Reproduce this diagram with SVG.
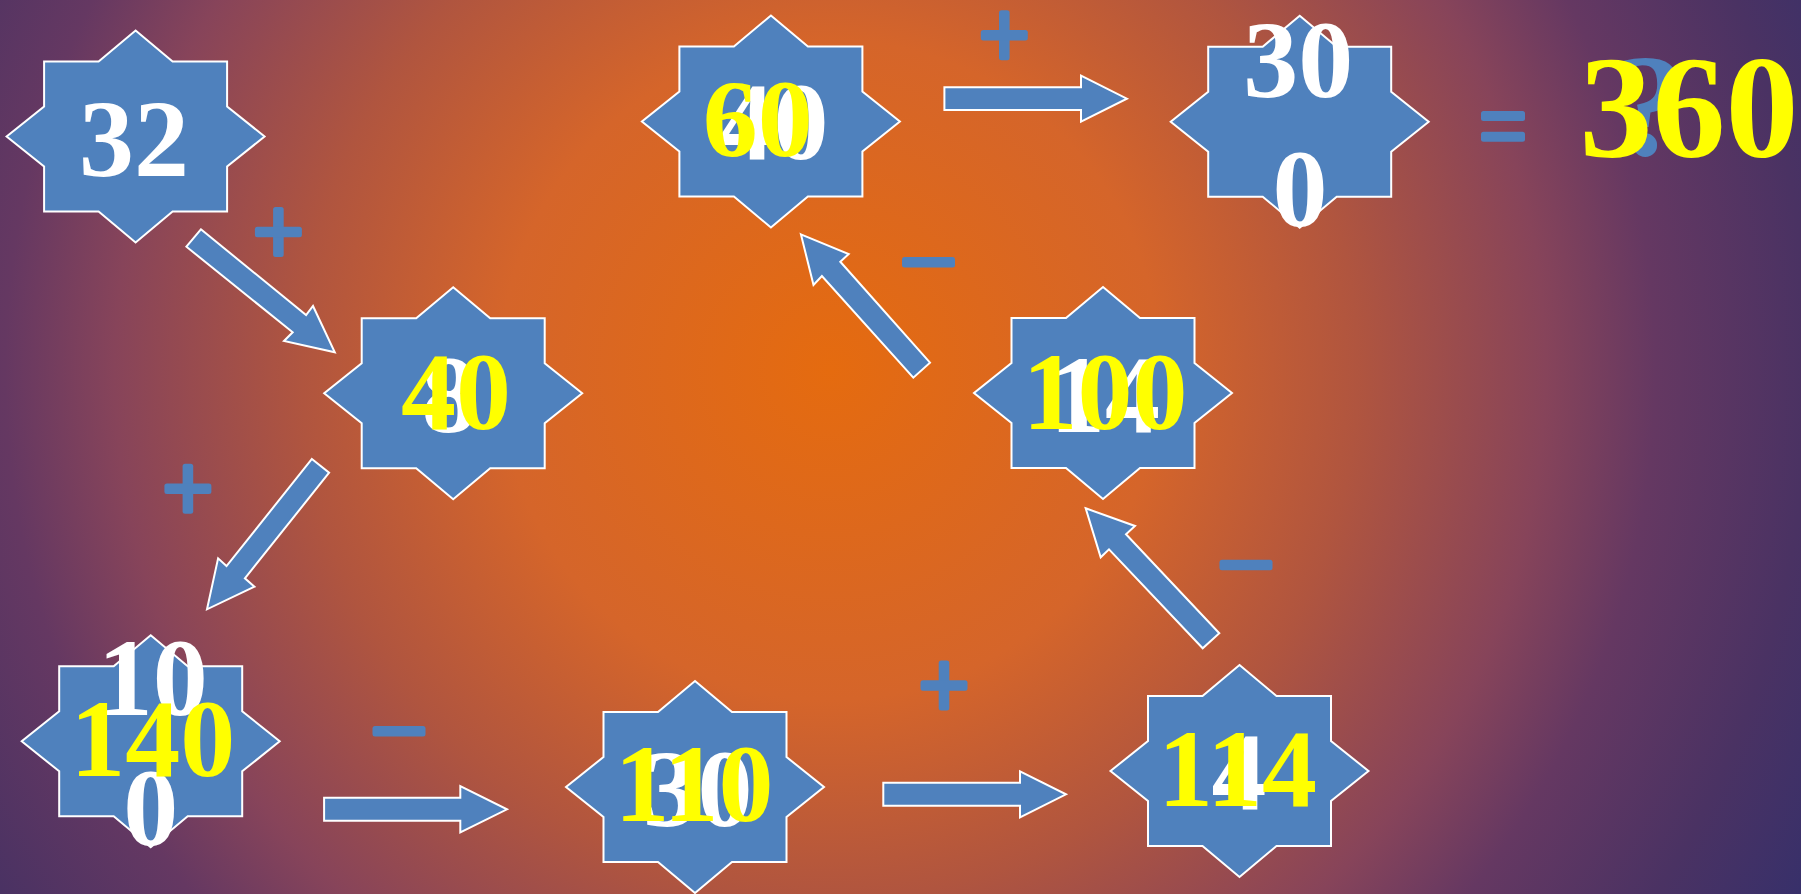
<svg xmlns="http://www.w3.org/2000/svg" xmlns:xlink="http://www.w3.org/1999/xlink" width="1801" height="894" viewBox="0 0 1801 894">
<style>
.star{fill:#4F81BD;stroke:#FFFFFF;stroke-width:2}
.arr{fill:#4F81BD;stroke:#FFFFFF;stroke-width:2;stroke-linejoin:miter}
.op{fill:#4F81BD}
.num{font-family:"Liberation Serif","Times New Roman",serif;font-weight:bold;font-size:110px;text-anchor:middle}
.w{fill:#FFFFFF}
.y{fill:#FFFF00}
.big{font-size:146px}
</style>
<defs>
<radialGradient id="bg" gradientUnits="userSpaceOnUse" cx="830" cy="370" r="1100">
<stop offset="0" stop-color="#E56B0F"/>
<stop offset="0.3" stop-color="#D5652A"/>
<stop offset="0.48" stop-color="#B0553F"/>
<stop offset="0.65" stop-color="#87445A"/>
<stop offset="0.75" stop-color="#653862"/>
<stop offset="0.89" stop-color="#4A3263"/>
<stop offset="1" stop-color="#38306A"/>
</radialGradient>
<path id="st" d="M0,-106 L37,-75 L91.5,-75 L91.5,-30 L129,0 L91.5,30 L91.5,75 L37,75 L0,106 L-37,75 L-91.5,75 L-91.5,30 L-129,0 L-91.5,-30 L-91.5,-75 L-37,-75 Z"/>
<g id="plus"><rect x="-5.3" y="-25" width="10.6" height="50" rx="2.5"/><rect x="-23.5" y="-5.2" width="47" height="10.4" rx="2.5"/></g>
<rect id="minus" x="-26.5" y="-5.2" width="53" height="10.4" rx="2.5"/>
</defs>
<rect x="0" y="0" width="1801" height="894" fill="url(#bg)"/>

<g id="connectors">
<polygon class="arr" points="200.9,229.3 306.1,315 313,306 334.8,352.3 284,341 292.7,332.3 186.4,246.7"/>
<polygon class="arr" points="311.9,459 329.1,472.7 244.9,578.3 254.5,586.7 207,609.3 218.1,558.3 226.5,566"/>
<polygon class="arr" points="324.1,797.7 460.3,797.7 460.3,786 507,809.3 460.3,832.3 460.3,820.7 324.1,820.7"/>
<polygon class="arr" points="883.3,782.7 1020,782.7 1020,771.3 1066,794.3 1020,817.5 1020,805.7 883.3,805.7"/>
<polygon class="arr" points="1085.7,508.3 1135,526 1126,534.3 1219.3,633.3 1202.7,648.3 1109,549.3 1100.7,557.3"/>
<polygon class="arr" points="800.9,234.3 848.7,254 840.3,261.7 930,362.7 913.3,377.7 821.9,276 813.5,285"/>
<polygon class="arr" points="944.4,87.3 1081,87.3 1081,75.7 1126.9,98.7 1081,121.7 1081,110 944.4,110"/>
</g>

<g id="operators" class="op">
<use xlink:href="#plus" x="278.4" y="232"/>
<use xlink:href="#plus" x="187.9" y="488.7"/>
<use xlink:href="#minus" x="399" y="731.3"/>
<use xlink:href="#plus" x="944" y="685.5"/>
<use xlink:href="#minus" x="1246" y="565"/>
<use xlink:href="#minus" x="928.5" y="262.3"/>
<use xlink:href="#plus" x="1004.3" y="35.3"/>
</g>

<g id="node-32">
<use class="star" xlink:href="#st" x="135.6" y="136.5"/>
<text class="num w" x="134" y="176">32</text>
</g>
<g id="node-40">
<use class="star" xlink:href="#st" x="453.2" y="393.3"/>
<text class="num w" x="449" y="432">8</text>
<text class="num y" x="456" y="429">40</text>
</g>
<g id="node-140">
<use class="star" xlink:href="#st" x="150.7" y="741.3"/>
<text class="num w" x="152.7" y="715">10</text>
<text class="num w" x="150.8" y="845">0</text>
<text class="num y" x="152.7" y="776">140</text>
</g>
<g id="node-110">
<use class="star" xlink:href="#st" x="695" y="787"/>
<text class="num w" x="697.5" y="826">30</text>
<text class="num y" x="694" y="821">110</text>
</g>
<g id="node-114">
<use class="star" xlink:href="#st" x="1239.5" y="771"/>
<text class="num w" x="1239" y="809">4</text>
<text class="num y" x="1237.5" y="806">114</text>
</g>
<g id="node-100">
<use class="star" xlink:href="#st" x="1103" y="393"/>
<text class="num w" x="1105" y="432">14</text>
<text class="num y" x="1105" y="429">100</text>
</g>
<g id="node-60">
<use class="star" xlink:href="#st" x="770.9" y="121.5"/>
<text class="num w" x="773.5" y="159">40</text>
<text class="num y" x="757.7" y="156">60</text>
</g>
<g id="node-300">
<use class="star" xlink:href="#st" x="1299.7" y="121.7"/>
<text class="num w" x="1298.3" y="96.5">30</text>
<text class="num w" x="1300" y="225.5">0</text>
</g>
<g id="result">
<rect class="op" x="1481" y="111" width="44" height="10" rx="2.5"/>
<rect class="op" x="1481" y="131.7" width="44" height="10" rx="2.5"/>
<text class="num big" x="1650" y="155" fill="#4F81BD">?</text>
<text class="num big y" x="1689" y="157">360</text>
</g>
</svg>
